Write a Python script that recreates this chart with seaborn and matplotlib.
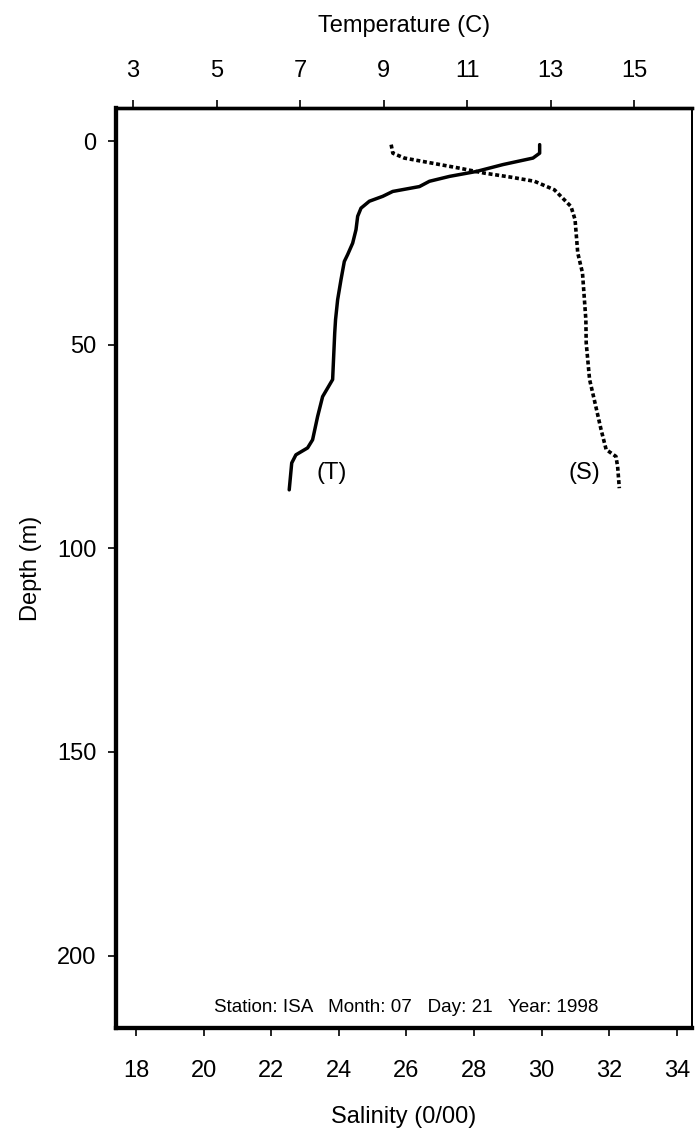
import matplotlib
matplotlib.use("Agg")
import matplotlib.pyplot as plt
import seaborn as sns
import pandas as pd

# temperature profile (C) vs depth (m)
depth_t = [0.8, 2.9, 4.1, 5.7, 7.4, 8.6, 9.8, 11.1, 12.3, 13.5, 14.7, 16.4, 18.4, 21.7, 25.0,
           27.8, 29.5, 34.0, 38.9, 43.8, 47.1, 58.5, 60.6, 62.7, 67.6, 73.3, 75.3, 77.0, 79.0, 85.6]
temp = [12.74, 12.74, 12.58, 11.86, 11.22, 10.58, 10.10, 9.86, 9.22, 8.98, 8.66, 8.46, 8.38, 8.34, 8.26,
        8.14, 8.06, 7.98, 7.90, 7.85, 7.83, 7.78, 7.66, 7.54, 7.42, 7.30, 7.18, 6.90, 6.80, 6.74]

# salinity profile (0/00) vs depth (m)
depth_s = [0.8, 2.9, 4.1, 5.3, 6.5, 7.8, 8.8, 9.8, 11.9, 16.0, 19.2, 27.4, 32.3, 43.8, 49.5,
           58.5, 63.5, 70.8, 75.7, 77.4, 79.9, 85.2]
sal = [25.55, 25.60, 25.94, 26.73, 27.52, 28.31, 29.10, 29.79, 30.38, 30.87, 30.99, 31.07, 31.21, 31.31, 31.32,
       31.42, 31.56, 31.76, 31.91, 32.20, 32.25, 32.30]

sal_ticks = [18, 20, 22, 24, 26, 28, 30, 32, 34]
temp_ticks = [3, 5, 7, 9, 11, 13, 15]
depth_ticks = [0, 50, 100, 150, 200]

dfT = pd.DataFrame({"Depth": depth_t, "Temp": temp})
dfS = pd.DataFrame({"Depth": depth_s, "Sal": sal})

sns.set_style("white")
plt.rcParams["font.family"] = ["Liberation Sans", "DejaVu Sans"]
plt.rcParams["text.color"] = "black"
plt.rcParams["axes.labelcolor"] = "black"
plt.rcParams["xtick.color"] = "black"
plt.rcParams["ytick.color"] = "black"

fig = plt.figure(figsize=(6.95, 11.3), dpi=100)
ax = fig.add_axes([116/695, 1-1028/1130, 576/695, 920/1130])
ax2 = ax.twiny()

sns.lineplot(data=dfS, x="Sal", y="Depth", sort=False, estimator=None, orient="y",
             color="black", linewidth=2.6, linestyle=(0, (1.1, 0.75)), ax=ax)
sns.lineplot(data=dfT, x="Temp", y="Depth", sort=False, estimator=None, orient="y",
             color="black", linewidth=2.5, ax=ax2)

ax.set_xlim(17.41, 34.45)
ax2.set_xlim(2.59, 16.39)
ax.set_ylim(217.8, -8.2)

ax.set_xticks(sal_ticks)
ax2.set_xticks(temp_ticks)
ax.set_yticks(depth_ticks)

ax.tick_params(axis="x", bottom=True, direction="out", length=6, width=1.2, pad=17, labelsize=17)
ax.tick_params(axis="y", left=True, direction="out", length=6, width=1.2, pad=8, labelsize=17)
ax2.tick_params(axis="x", top=True, direction="out", length=6, width=1.2, pad=13, labelsize=17)

ax.set_xlabel("Salinity (0/00)", fontsize=17, labelpad=17)
ax.set_ylabel("Depth (m)", fontsize=17, labelpad=11)
ax2.set_xlabel("Temperature (C)", fontsize=17, labelpad=20)

for a in (ax, ax2):
    a.spines["left"].set_linewidth(3.0)
    a.spines["bottom"].set_linewidth(3.0)
    a.spines["top"].set_linewidth(2.4)
    a.spines["right"].set_linewidth(1.4)
    for s in a.spines.values():
        s.set_color("black")

ax.text(23.78, 81.5, "(T)", fontsize=17, ha="center", va="center")
ax.text(31.27, 81.5, "(S)", fontsize=17, ha="center", va="center")
ax.text(26.0, 212.8, "Station: ISA   Month: 07   Day: 21   Year: 1998",
        fontsize=13.6, ha="center", va="center")

fig.savefig("out.png", dpi=100)
